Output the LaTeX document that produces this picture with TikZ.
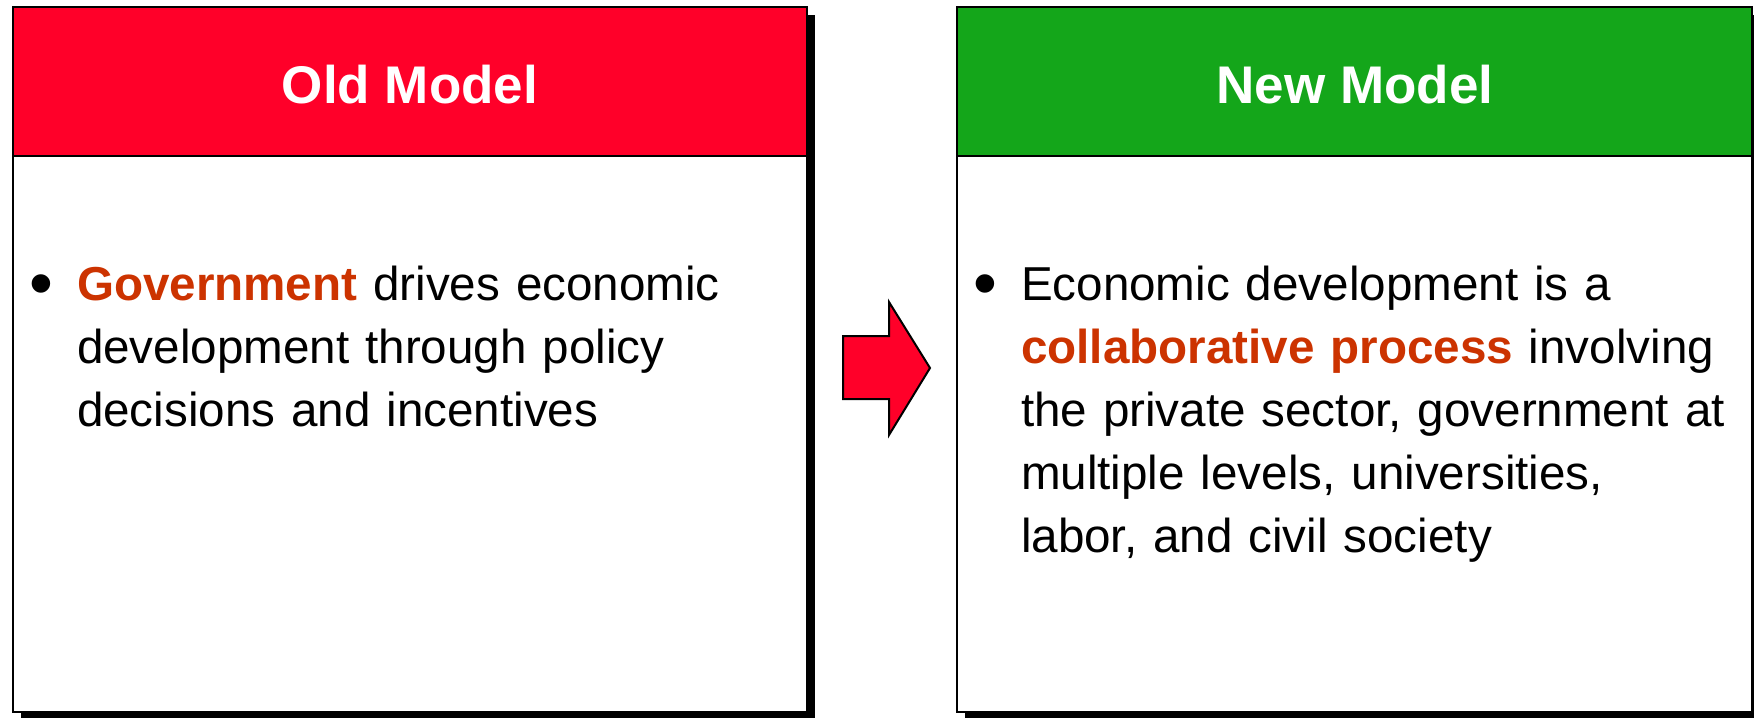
\documentclass[tikz,border=0pt]{standalone}
\usepackage{fontspec}
\setmainfont{Liberation Sans}
\usetikzlibrary{positioning}
\definecolor{oldred}{RGB}{255,0,41}
\definecolor{newgreen}{RGB}{20,166,26}
\definecolor{keyword}{RGB}{204,51,0}
\newcommand{\hl}[1]{\textcolor{keyword}{\textbf{#1}}}

\begin{document}
\begin{tikzpicture}[%
      x=0.5pt, y=-0.5pt,
      every node/.style={inner sep=0pt, outer sep=0pt},
      panel/.style={draw=black, line width=1pt, fill=white},
      shadow/.style={fill=black},
      title/.style={anchor=base, text=white, font=\fontsize{26.5}{30}\selectfont\bfseries},
      bullet/.style={anchor=base west, font=\fontsize{34}{34}\selectfont},
      body/.style={anchor=base west, align=left, text width=360pt, font=\fontsize{23.8}{31.5}\selectfont}
    ]
    \useasboundingbox (0,0) rectangle (1754,717);
    % old model
    \fill[shadow] (21,15) rectangle (815,720);
    \draw[panel] (13,7) rectangle (807,712);
    \draw[panel, fill=oldred] (13,7) rectangle (807,156);
    \node [title] (oldtitle) at (410,104) {Old Model};
    \node [bullet] (oldbullet) at (29,306) {•};
    \node [body] (oldtext) at (77,300) {\hl{Government} drives economic\\
      development through policy\\
      decisions and incentives};
    % new model
    \fill[shadow] (965,15) rectangle (1760,720);
    \draw[panel] (957,7) rectangle (1752,712);
    \draw[panel, fill=newgreen] (957,7) rectangle (1752,156);
    \node [title] (newtitle) at (1355,104) {New Model};
    \node [bullet] (newbullet) at (973,306) {•};
    \node [body] (newtext) at (1021,300) {Economic development is a\\
      \hl{collaborative process} involving\\
      the private sector, government at\\
      multiple levels, universities,\\
      labor, and civil society};
    % arrow
    \filldraw[fill=oldred, draw=black, line width=1pt]
      (843,336) -- (889,336) -- (889,302) -- (930,368)
      -- (889,435) -- (889,399) -- (843,399) -- cycle;
  \end{tikzpicture}
\end{document}
